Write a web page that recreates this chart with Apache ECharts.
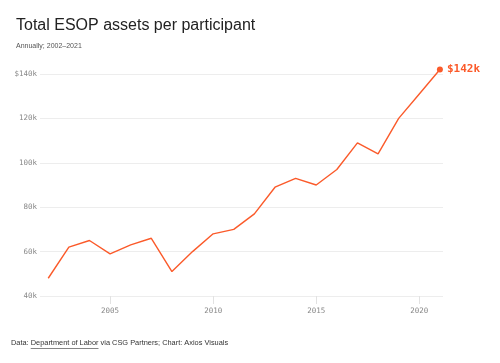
<!DOCTYPE html>
<html>
<head>
<meta charset="utf-8">
<script src="https://cdn.jsdelivr.net/npm/echarts@6/dist/echarts.min.js"></script>
<style>
html,body{margin:0;padding:0;background:#fff;}
#chart{width:500px;height:363px;}
</style>
</head>
<body>
<div id="chart"></div>
<script>
const years = [2002,2003,2004,2005,2006,2007,2008,2009,2010,2011,2012,2013,2014,2015,2016,2017,2018,2019,2020,2021];
const assetsK = [48,62,65,59,63,66,51,60,68,70,77,89,93,90,97,109,104,120,131,142];
const xTickYears = [2005,2010,2015,2020];
const yTicks = [40,60,80,100,120,140];

const titleText = 'Total ESOP assets per participant';
const subtitleText = 'Annually; 2002\u20132021';
const footerPre = 'Data: ';
const footerLink = 'Department of Labor';
const footerPost = ' via CSG Partners; Chart: Axios Visuals';

const ORANGE = '#fb5a2a';
const MONO = '"DejaVu Sans Mono", monospace';
const SANS = '"Liberation Sans", Arial, sans-serif';

const chart = echarts.init(document.getElementById('chart'), null, {renderer:'canvas'});

const ctx = document.createElement('canvas').getContext('2d');
const footerFont = '7.4px ' + SANS;
ctx.font = footerFont;
const preW = ctx.measureText(footerPre).width;
const linkW = ctx.measureText(footerLink).width;

const seriesData = assetsK.map((v,i)=>{
  const item = {value:[years[i], v]};
  if (i === assetsK.length-1) {
    item.symbol = 'circle';
    item.symbolSize = 6;
    item.label = {
      show:true, position:'right', distance:4,
      formatter: p => '$' + p.value[1] + 'k',
      color: ORANGE, fontFamily: MONO, fontSize: 11, fontWeight: 'bold'
    };
  }
  return item;
});

chart.setOption({
  animation:false,
  backgroundColor:'#fff',
  title:[
    {text:titleText, left:11, top:13, textStyle:{fontFamily:SANS, fontSize:16, fontWeight:'normal', color:'#222'}},
    {text:subtitleText, left:11, top:38, textStyle:{fontFamily:SANS, fontSize:7, fontWeight:'normal', color:'#555'}}
  ],
  graphic:[
    {type:'text', left:11, top:339, style:{text:footerPre+footerLink+footerPost, font:footerFont, fill:'#333'}},
    {type:'line', shape:{x1:11+preW, y1:348.5, x2:11+preW+linkW, y2:348.5}, style:{stroke:'#333', lineWidth:0.6}}
  ],
  grid:{left:40, right:57, top:74, bottom:67, containLabel:false},
  xAxis:{
    type:'value', min:2001.6, max:2021.15,
    axisLine:{show:false},
    splitLine:{show:false},
    axisTick:{show:true, customValues:xTickYears, length:8, lineStyle:{color:'#e2e2e2', width:1}},
    axisLabel:{customValues:xTickYears, margin:11, color:'#888', fontFamily:MONO, fontSize:7.5, formatter: v => String(v)}
  },
  yAxis:{
    type:'value', min:40, max:140, interval:20,
    axisLine:{show:false}, axisTick:{show:false},
    splitLine:{lineStyle:{color:'#ededed', width:1}},
    axisLabel:{margin:3, color:'#888', fontFamily:MONO, fontSize:7.5,
      formatter: v => (v === 140 ? '$' : '') + v + 'k'}
  },
  series:[{
    type:'line',
    data:seriesData,
    symbol:'none',
    showSymbol:true,
    lineStyle:{color:ORANGE, width:1.4},
    itemStyle:{color:ORANGE},
    emphasis:{disabled:true},
    clip:false
  }]
});
</script>
</body>
</html>
